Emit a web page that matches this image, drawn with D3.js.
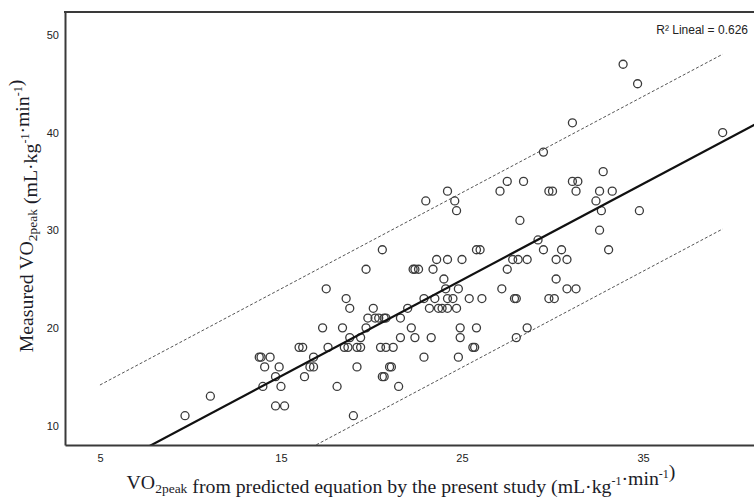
<!DOCTYPE html>
<html><head><meta charset="utf-8">
<script src="https://cdn.jsdelivr.net/npm/d3@7"></script>
<style>body{margin:0;background:#fff} svg{display:block}</style>
</head><body>
<svg id="chart" width="754" height="497"></svg>
<script>
// VO2peak predicted by the equation (x) and measured VO2peak (y), mL·kg-1·min-1
const predicted = [
  33.9, 34.7, 31.1, 39.4, 29.5, 32.8,
  27.5, 28.4, 31.1, 31.4,
  24.2, 27.1, 29.8, 30.0, 31.3, 32.6, 33.3,
  23.0, 24.6, 32.4,
  24.7, 32.7, 34.8,
  28.2, 32.6, 29.2,
  20.6, 25.8, 26.0, 29.5, 30.5, 33.1,
  23.6, 24.2, 25.0, 27.8, 28.1, 28.6, 30.2, 30.8,
  19.7, 22.3, 22.4, 22.6, 23.4, 27.5,
  24.0, 30.2,
  17.5, 24.1, 24.8, 27.2, 30.8, 31.3,
  18.6, 22.9, 23.5, 24.2, 24.5, 25.4, 26.1, 27.9, 28.0, 29.8, 30.1,
  18.8, 20.1, 22.0, 23.2, 23.7, 23.9, 24.2, 24.7,
  19.8, 20.2, 20.4, 20.7, 20.8, 21.6,
  17.3, 18.4, 19.7, 22.2, 24.9, 25.8, 28.6,
  18.8, 19.4, 21.6, 22.4, 23.3, 24.9, 28.0,
  16.0, 16.2, 17.6, 18.5, 18.7, 19.2, 19.4, 20.5, 20.8, 21.2, 25.6, 25.7,
  13.8, 13.9, 14.4, 16.8, 22.9, 24.8,
  14.1, 14.9, 16.6, 16.8, 19.2, 21.0, 21.1,
  14.7, 16.3, 20.6, 20.7,
  14.0, 15.0, 18.1, 21.5,
  11.1,
  14.7, 15.2,
  9.7, 19.0
];
const measured = [
  47, 45, 41, 40, 38, 36,
  35, 35, 35, 35,
  34, 34, 34, 34, 34, 34, 34,
  33, 33, 33,
  32, 32, 32,
  31, 30, 29,
  28, 28, 28, 28, 28, 28,
  27, 27, 27, 27, 27, 27, 27, 27,
  26, 26, 26, 26, 26, 26,
  25, 25,
  24, 24, 24, 24, 24, 24,
  23, 23, 23, 23, 23, 23, 23, 23, 23, 23, 23,
  22, 22, 22, 22, 22, 22, 22, 22,
  21, 21, 21, 21, 21, 21,
  20, 20, 20, 20, 20, 20, 20,
  19, 19, 19, 19, 19, 19, 19,
  18, 18, 18, 18, 18, 18, 18, 18, 18, 18, 18, 18,
  17, 17, 17, 17, 17, 17,
  16, 16, 16, 16, 16, 16, 16,
  15, 15, 15, 15,
  14, 14, 14, 14,
  13,
  12, 12,
  11, 11
];
const xTicks = [5, 15, 25, 35];
const yTicks = [10, 20, 30, 40, 50];
const fitIntercept = 0.27;
const fitSlope = 0.985;
const predictionBand = 8.95;
const bandExtent = [5, 39.4];
const r2Label = "R\u00B2 Lineal = 0.626";

const svg = d3.select("#chart");
const pLeft = 65, pTop = 12, pBottom = 445, pRight = 771;
const x = d3.scaleLinear().domain([3.07, 42.07]).range([pLeft, pRight]);
const y = d3.scaleLinear().domain([8, 52.35]).range([pBottom, pTop]);

svg.append("defs").append("clipPath").attr("id", "plot")
  .append("rect").attr("x", pLeft).attr("y", pTop)
  .attr("width", pRight - pLeft).attr("height", pBottom - pTop);

const plot = svg.append("g").attr("clip-path", "url(#plot)");
const fit = v => fitIntercept + fitSlope * v;
const line = d3.line().x(d => x(d[0])).y(d => y(d[1]));

// prediction interval lines
[predictionBand, -predictionBand].forEach(off => {
  plot.append("path")
    .attr("d", line(bandExtent.map(v => [v, fit(v) + off])))
    .attr("fill", "none").attr("stroke", "#555").attr("stroke-width", 1)
    .attr("stroke-dasharray", "3,2");
});

// points
plot.selectAll("circle.pt").data(predicted.map((p, i) => [p, measured[i]]))
  .enter().append("circle").attr("class", "pt")
  .attr("cx", d => x(d[0])).attr("cy", d => y(d[1])).attr("r", 4)
  .attr("fill", "none").attr("stroke", "#3a3a3a").attr("stroke-width", 1.3);

// regression line
plot.append("path")
  .attr("d", line(x.domain().map(v => [v, fit(v)])))
  .attr("fill", "none").attr("stroke", "#111").attr("stroke-width", 2.2);

// axes
const gx = svg.append("g").attr("transform", `translate(0,${pBottom})`)
  .call(d3.axisBottom(x).tickValues(xTicks).tickSize(0).tickSizeOuter(0).tickPadding(9));
const gy = svg.append("g").attr("transform", `translate(${pLeft},0)`)
  .call(d3.axisLeft(y).tickValues(yTicks).tickSize(0).tickSizeOuter(0).tickPadding(6));
[gx, gy].forEach(g => {
  g.select(".domain").attr("stroke", "#3a3a3a").attr("stroke-width", 2);
  g.selectAll("text").attr("font-family", "Liberation Sans, Arial, sans-serif")
    .attr("font-size", 11).attr("fill", "#222");
});
svg.append("line").attr("x1", pLeft - 1).attr("x2", pRight).attr("y1", pTop).attr("y2", pTop)
  .attr("stroke", "#3a3a3a").attr("stroke-width", 2);

// R2 label
svg.append("text").attr("x", 748).attr("y", 34).attr("text-anchor", "end")
  .attr("font-family", "Liberation Sans, Arial, sans-serif").attr("font-size", 12)
  .attr("fill", "#222").text(r2Label);

// rich axis titles
function rich(t, parts) {
  parts.forEach(([s, kind]) => {
    if (kind === "sub") {
      t.append("tspan").attr("font-size", 13.5).attr("dy", 3.5).text(s);
      t.append("tspan").attr("dy", -3.5).text("");
    } else if (kind === "sup") {
      t.append("tspan").attr("font-size", 12).attr("dy", -7.5).text(s);
      t.append("tspan").attr("dy", 7.5).text("");
    } else {
      t.append("tspan").text(s);
    }
  });
}
const unitParts = [[" (mL\u00B7kg"], ["-1", "sup"], ["\u00B7min"], ["-1", "sup"], [")"]];
const xt = svg.append("text").attr("x", 401).attr("y", 489).attr("text-anchor", "middle")
  .attr("font-family", "Liberation Serif, serif").attr("font-size", 19.8).attr("fill", "#1c1c28");
rich(xt, [["VO"], ["2peak", "sub"], [" from predicted equation by the present study"]].concat(unitParts));

const yt = svg.append("text").attr("transform", "translate(33,216) rotate(-90)")
  .attr("text-anchor", "middle")
  .attr("font-family", "Liberation Serif, serif").attr("font-size", 19.8).attr("fill", "#1c1c28");
rich(yt, [["Measured VO"], ["2peak", "sub"]].concat(unitParts));
</script>
</body></html>
